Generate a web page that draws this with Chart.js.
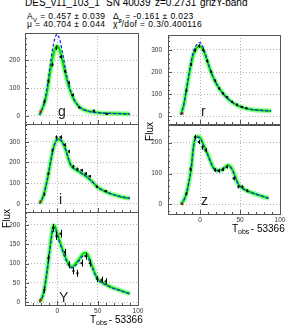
<!DOCTYPE html>
<html>
<head>
<meta charset="utf-8">
<script src="https://cdn.jsdelivr.net/npm/chart.js@4"></script>
<style>
body { margin: 0; background: #fff; }
#page { position: relative; width: 288px; height: 325px; overflow: hidden; font-family: "Liberation Sans", Arial, sans-serif; }
#page canvas { position: absolute; left: 0; top: 0; }
.t { position: absolute; white-space: nowrap; color: #000; }
.t10 { font-size: 10px; line-height: 10px; }
.t8 { font-size: 8.5px; line-height: 8px; letter-spacing: 0.4px; }
sub, sup { font-size: 70%; line-height: 0; }
</style>
</head>
<body>
<div id="page">
  <div class="t t10" style="left:25px;top:-2px">DES_v11_103_1</div>
  <div class="t t10" style="left:106px;top:-2px">SN 40039</div>
  <div class="t t10" style="left:155px;top:-2px">z=0.2731</div>
  <div class="t t10" style="left:200px;top:-2px">grizY-band</div>
  <div class="t t8" style="left:27px;top:12px">A<sub>V</sub> = 0.457 &plusmn; 0.039</div>
  <div class="t t8" style="left:113px;top:12px">&Delta;<sub>c</sub> = -0.161 &plusmn; 0.023</div>
  <div class="t t8" style="left:27px;top:20px">&mu; = 40.704 &plusmn; 0.044</div>
  <div class="t t8" style="left:113px;top:20px">&chi;<sup>2</sup>/dof = 0.3/0.400116</div>
</div>
<script>
const xTicks = [0, 50, 100];

// g band
const gTicks = [0, 100, 200];
const gModelT = [-22, -18, -15, -12, -9, -6, -3, 0, 3, 6, 9, 12, 15, 18, 21, 25, 30, 35, 40, 50, 60, 70, 80, 90];
const gFit = [3, 30, 55, 100, 155, 205, 240, 252, 238, 205, 165, 130, 100, 76, 57, 40, 27, 20, 16, 12, 10, 9, 8, 7];
const gAlt = [3, 32, 62, 115, 178, 238, 280, 294, 275, 235, 186, 140, 104, 78, 58, 40, 27, 20, 16, 12, 10, 9, 8, 7];
const gObsT = [-16, -11, -6, -1, 4, 9.5, 14.5, 19, 27, 45, 61];
const gObsF = [52, 125, 185, 246, 213, 161, 119, 76, 31, 19, 7];
const gObsErr = [6, 6, 7, 8, 7, 6, 6, 5, 4, 3, 3];

// r band
const rTicks = [0, 100, 200, 300];
const rModelT = [-24, -20, -17, -14, -11, -8, -5, -2, 0, 2, 5, 8, 12, 16, 20, 25, 30, 36, 42, 48, 56, 64, 75, 89];
const rFit = [5, 55, 118, 180, 240, 282, 306, 316, 316, 311, 292, 262, 218, 180, 150, 120, 97, 75, 58, 46, 36, 30, 26, 23];
const rAlt = [5, 57, 122, 186, 250, 295, 320, 331, 333, 326, 302, 268, 220, 180, 150, 120, 97, 75, 58, 46, 36, 30, 26, 23];
const rObsT = [-17, -11, -6, -1, 4, 9, 14, 19, 24, 29, 34, 40, 46, 52, 58];
const rObsF = [115, 235, 298, 318, 300, 250, 200, 160, 125, 102, 85, 65, 52, 42, 36];
const rObsErr = [6, 7, 8, 8, 8, 7, 6, 6, 5, 5, 4, 4, 4, 4, 4];

// i band
const iTicks = [0, 100, 200, 300];
const iModelT = [-22, -19, -16, -13, -10, -7, -4, -1, 2, 5, 8, 11, 14, 17, 20, 23, 27, 31, 35, 38, 41, 45, 50, 55, 60, 65, 73, 80, 90];
const iFit = [0, 20, 55, 105, 165, 230, 280, 308, 312, 305, 285, 255, 215, 185, 172, 165, 155, 145, 135, 125, 115, 100, 80, 68, 58, 50, 40, 33, 26];
const iAlt = [0, 20, 55, 105, 165, 230, 280, 308, 312, 305, 285, 255, 215, 185, 172, 165, 155, 145, 135, 125, 115, 100, 80, 68, 58, 50, 40, 33, 26];
const iObsT = [-16, -11, -6, -1, 4, 9.5, 14.5, 20, 25, 30, 35, 40, 49, 60];
const iObsF = [45, 146, 258, 322, 322, 285, 253, 181, 168, 162, 146, 133, 82, 61];
const iObsErr = [7, 7, 8, 9, 9, 8, 8, 7, 7, 7, 7, 6, 6, 5];

// z band
const zTicks = [0, 100, 200];
const zModelT = [-24, -20, -17, -14, -11, -8, -5, -2, 1, 4, 7, 10, 13, 16, 20, 24, 28, 32, 35, 38, 41, 44, 48, 52, 56, 62, 68, 76, 86];
const zFit = [0, 15, 35, 70, 116, 190, 218, 220, 213, 195, 178, 160, 140, 122, 112, 110, 113, 122, 127, 123, 110, 90, 65, 55, 48, 41, 35, 28, 20];
const zAlt = [0, 15, 35, 70, 116, 188, 215, 217, 210, 193, 176, 158, 138, 120, 110, 108, 111, 119, 123, 120, 108, 89, 64, 54, 47, 40, 35, 28, 20];
const zObsT = [-17, -12, -6, -1.6, 3, 7, 18.7, 23.6, 28.5, 34, 42, 48, 53, 59];
const zObsF = [35, 114, 218, 202, 184, 175, 111, 109, 114, 122, 84, 57, 57, 44];
const zObsErr = [5, 6, 7, 7, 7, 7, 6, 6, 6, 6, 6, 5, 5, 5];

// Y band
const yTicks = [0, 50, 100, 150, 200];
const yModelT = [-22, -19, -16, -13, -10, -7, -5, -3, 0, 3, 6, 9, 12, 15, 18, 21, 24, 28, 31, 34, 37, 40, 43, 46, 50, 55, 61, 68, 75, 90];
const yFit = [0, 10, 35, 75, 125, 175, 198, 196, 178, 158, 140, 122, 107, 96, 92, 95, 103, 114, 123, 127, 125, 112, 95, 78, 60, 52, 45, 38, 33, 22];
const yAlt = [0, 10, 34, 73, 122, 170, 192, 191, 174, 154, 136, 118, 104, 93, 89, 92, 99, 110, 118, 121, 119, 107, 91, 75, 58, 51, 44, 37, 32, 22];
const yObsT = [-16, -11, -5, -1, 4, 9.5, 14.5, 20, 25, 30, 35, 40.5, 49.6, 55, 60];
const yObsF = [32, 114, 192, 171, 177, 129, 97, 81, 75, 101, 119, 101, 60, 58, 54];
const yObsErr = [8, 9, 10, 10, 10, 9, 9, 9, 9, 9, 9, 9, 8, 8, 8];

// early (excluded) point per band: g r i z Y
const earlyT = [-20.7, -22, -21, -22, -21];
const earlyF = [16, 12, 11, 1, 6];
const earlyErr = [4, 4, 4, 3, 5];

const pts = (xs, ys) => xs.map((v, k) => ({ x: v, y: ys[k] }));

// frame, minor ticks, error bars and in-pad texts, ROOT style
const rootFrame = {
    id: 'rootFrame',
    afterDatasetsDraw(chart) {
        const { ctx, scales: { x, y } } = chart;
        chart.data.datasets.forEach((ds) => {
            if (!ds.errors) return;
            ctx.save();
            ctx.strokeStyle = ds.borderColor;
            ctx.lineWidth = 1;
            ds.data.forEach((p, j) => {
                const px = Math.round(x.getPixelForValue(p.x)) + 0.5;
                ctx.beginPath();
                ctx.moveTo(px, y.getPixelForValue(p.y - ds.errors[j]));
                ctx.lineTo(px, y.getPixelForValue(p.y + ds.errors[j]));
                ctx.stroke();
            });
            ctx.restore();
        });
    },
    afterDraw(chart, args, opts) {
        const { ctx, chartArea: a, scales: { x, y } } = chart;
        ctx.save();
        ctx.strokeStyle = '#555';
        ctx.lineWidth = 1;
        ctx.strokeRect(Math.round(a.left) + 0.5, Math.round(a.top) + 0.5, Math.round(a.width), Math.round(a.height));
        ctx.beginPath();
        const minor = opts.step / 5;
        for (let v = Math.ceil(y.min / minor) * minor; v <= y.max; v += minor) {
            const py = Math.round(y.getPixelForValue(v)) + 0.5;
            const len = Math.abs(v % opts.step) < 1e-6 ? 4 : 2;
            ctx.moveTo(a.left, py);
            ctx.lineTo(a.left + len, py);
        }
        for (let v = -40; v <= 100; v += 10) {
            const px = Math.round(x.getPixelForValue(v)) + 0.5;
            const len = v % 50 === 0 ? 4 : 2;
            ctx.moveTo(px, a.bottom);
            ctx.lineTo(px, a.bottom - len);
        }
        ctx.stroke();

        // band letter
        ctx.fillStyle = '#222';
        ctx.font = '14px "Liberation Sans", Arial, sans-serif';
        ctx.textBaseline = 'alphabetic';
        ctx.fillText(opts.letter, a.left + opts.letterDx, a.bottom - opts.letterDy);

        // axis titles
        ctx.fillStyle = '#000';
        if (opts.flux) {
            ctx.save();
            ctx.font = '10px "Liberation Sans", Arial, sans-serif';
            ctx.translate(a.left - 15, a.top - 3);
            ctx.rotate(-Math.PI / 2);
            ctx.textAlign = 'right';
            ctx.fillText('Flux', 0, 0);
            ctx.restore();
        }
        if (opts.xTitle) {
            const bx = a.right - 48, by = a.bottom + 18;
            ctx.font = '10px "Liberation Sans", Arial, sans-serif';
            ctx.fillText('T', bx, by);
            ctx.font = '7px "Liberation Sans", Arial, sans-serif';
            ctx.fillText('obs', bx + 6, by + 2);
            ctx.font = '10px "Liberation Sans", Arial, sans-serif';
            ctx.fillText(' - 53366', bx + 16, by);
        }
        ctx.restore();
    }
};

Chart.defaults.font.family = '"Liberation Sans", Arial, sans-serif';
Chart.defaults.color = '#333';

function makePanel(p) {
    const canvas = document.createElement('canvas');
    canvas.width = 288;
    canvas.height = 325;
    document.getElementById('page').appendChild(canvas);
    const xh = p.showX ? 12 : 0;

    new Chart(canvas.getContext('2d'), {
        type: 'line',
        data: {
            datasets: [
                {
                    data: pts(p.obsT, p.obsF), errors: p.obsErr, showLine: false,
                    borderColor: '#000', backgroundColor: '#000',
                    pointStyle: 'rect', pointRadius: 1.4, pointBorderWidth: 0, order: 0,
                },
                {
                    data: [{ x: earlyT[p.k], y: earlyF[p.k] }], errors: [earlyErr[p.k]], showLine: false,
                    borderColor: '#e00', backgroundColor: '#e00',
                    pointStyle: 'rect', pointRadius: 1.4, pointBorderWidth: 0, order: 0,
                },
                {
                    data: pts(p.modelT, p.alt), borderColor: '#1a1aff', borderWidth: 1.2,
                    borderDash: [3, 2], pointRadius: 0, cubicInterpolationMode: 'monotone', order: 1,
                },
                {
                    data: pts(p.modelT, p.fit), borderColor: '#00dd00', borderWidth: 2,
                    pointRadius: 0, cubicInterpolationMode: 'monotone', order: 2,
                },
                {
                    data: pts(p.modelT, p.fit), borderColor: 'rgba(120,255,120,0.75)', borderWidth: 5,
                    pointRadius: 0, cubicInterpolationMode: 'monotone', order: 3,
                },
            ],
        },
        options: {
            responsive: false,
            animation: false,
            devicePixelRatio: 1,
            layout: {
                padding: {
                    left: p.fx - 25,
                    right: 288 - p.fx - p.fw,
                    top: p.fy,
                    bottom: 325 - p.fy - p.fh - xh,
                },
            },
            plugins: {
                legend: { display: false },
                tooltip: { enabled: false },
                rootFrame: { step: p.yTicks[1] - p.yTicks[0], letter: p.letter, letterDx: p.ldx, letterDy: p.ldy,
                             flux: p.flux, xTitle: p.showX },
            },
            scales: {
                x: {
                    type: 'linear', min: -40, max: 100,
                    afterBuildTicks: (s) => { s.ticks = xTicks.map((v) => ({ value: v })); },
                    afterFit: (s) => { s.height = xh; },
                    ticks: { display: p.showX, font: { size: 6.5 }, padding: 2, maxRotation: 0 },
                    grid: { color: '#b4b4b4', drawTicks: false },
                    border: { display: false, dash: [1, 2] },
                },
                y: {
                    min: p.ymin, max: p.ymax,
                    afterBuildTicks: (s) => { s.ticks = p.yTicks.map((v) => ({ value: v })); },
                    afterFit: (s) => { s.width = 25; },
                    ticks: { font: { size: 6.5 }, padding: p.fx > 100 ? 6 : 5 },
                    grid: { color: '#b4b4b4', drawTicks: false },
                    border: { display: false, dash: [1, 2] },
                },
            },
        },
        plugins: [rootFrame],
    });
}

const panels = [
    { k: 0, letter: 'g', ldx: 33, ldy: 8, flux: false, fx: 25, fy: 33, fw: 113, fh: 91, ymin: -29, ymax: 299, showX: false,
      yTicks: gTicks, modelT: gModelT, fit: gFit, alt: gAlt, obsT: gObsT, obsF: gObsF, obsErr: gObsErr },
    { k: 2, letter: 'i', ldx: 34, ldy: 8, flux: false, fx: 25, fy: 124, fw: 113, fh: 88, ymin: -40, ymax: 386, showX: false,
      yTicks: iTicks, modelT: iModelT, fit: iFit, alt: iAlt, obsT: iObsT, obsF: iObsF, obsErr: iObsErr },
    { k: 4, letter: 'Y', ldx: 34, ldy: 3, flux: true, fx: 25, fy: 212, fw: 113, fh: 93, ymin: -7, ymax: 233, showX: true,
      yTicks: yTicks, modelT: yModelT, fit: yFit, alt: yAlt, obsT: yObsT, obsF: yObsF, obsErr: yObsErr },
    { k: 1, letter: 'r', ldx: 33, ldy: 8, flux: false, fx: 168, fy: 35, fw: 112, fh: 89, ymin: -36, ymax: 368, showX: false,
      yTicks: rTicks, modelT: rModelT, fit: rFit, alt: rAlt, obsT: rObsT, obsF: rObsF, obsErr: rObsErr },
    { k: 3, letter: 'z', ldx: 33, ldy: 9, flux: true, fx: 168, fy: 125, fw: 112, fh: 89, ymin: -31, ymax: 257, showX: true,
      yTicks: zTicks, modelT: zModelT, fit: zFit, alt: zAlt, obsT: zObsT, obsF: zObsF, obsErr: zObsErr },
];

panels.forEach(makePanel);
</script>
</body>
</html>
